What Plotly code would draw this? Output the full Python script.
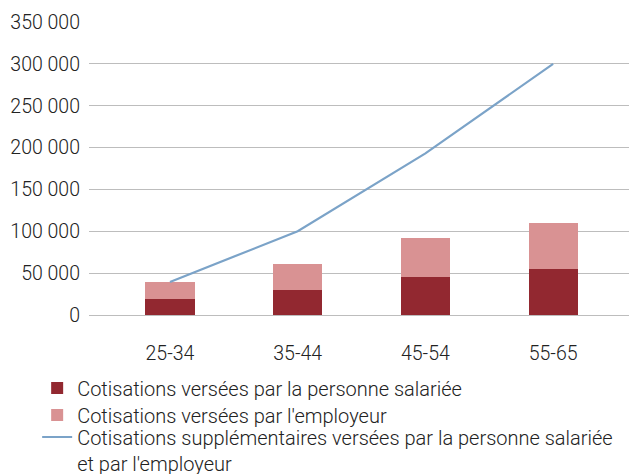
import plotly.graph_objects as go

categories = ["25-34", "35-44", "45-54", "55-65"]
salarie = [19500, 30000, 45500, 55000]
employeur = [20000, 31000, 46500, 55000]
supplementaires = [39500, 100000, 193000, 300000]

names = [
    "Cotisations versées par la personne salariée",
    "Cotisations versées par l'employeur",
    "Cotisations supplémentaires versées par la personne salariée<br>et par l'employeur",
]

fig = go.Figure()
fig.add_trace(go.Bar(x=categories, y=salarie, name=names[0], legend="legend",
                     marker=dict(color="#922830", line=dict(width=0)), width=0.384))
fig.add_trace(go.Bar(x=categories, y=employeur, name=names[1], legend="legend2",
                     marker=dict(color="#D99293", line=dict(width=0)), width=0.384))
fig.add_trace(go.Scatter(x=categories, y=supplementaires, name=names[2], mode="lines",
                         legend="legend3", line=dict(color="#7BA3C8", width=2.2)))

legend_font = dict(family="Roboto, Liberation Sans, sans-serif", size=20, color="#222222", weight=300)
common = dict(orientation="v", xanchor="left", yanchor="middle", font=legend_font,
              bgcolor="rgba(0,0,0,0)", x=-0.096)

fig.update_layout(
    width=629, height=474,
    barmode="stack",
    separators=". ",
    paper_bgcolor="white", plot_bgcolor="white",
    margin=dict(l=89, r=0, t=22, b=159, autoexpand=False),
    font=dict(family="Roboto, Liberation Sans, sans-serif", size=19, color="#222222", weight=300),
    showlegend=True,
    legend=dict(y=-0.2491, **common),
    legend2=dict(y=-0.3413, **common),
    legend3=dict(y=-0.4608, valign="top", **common),
)
fig.update_xaxes(type="category", range=[-0.634, 3.594], showgrid=False, showline=False,
                 ticks="", tickfont=dict(size=19.5), ticklabelstandoff=24)
fig.update_yaxes(range=[0, 350000], dtick=50000, tickformat=",d", showgrid=True,
                 gridcolor="#BDBDBD", gridwidth=1, zeroline=True, zerolinecolor="#BDBDBD",
                 zerolinewidth=1, showline=False, ticks="", tickfont=dict(size=19.5), ticklabelstandoff=8)

fig.write_html("out.html", config={"displayModeBar": False},
               post_script="document.body.style.margin='0';document.body.style.overflow='hidden';")
